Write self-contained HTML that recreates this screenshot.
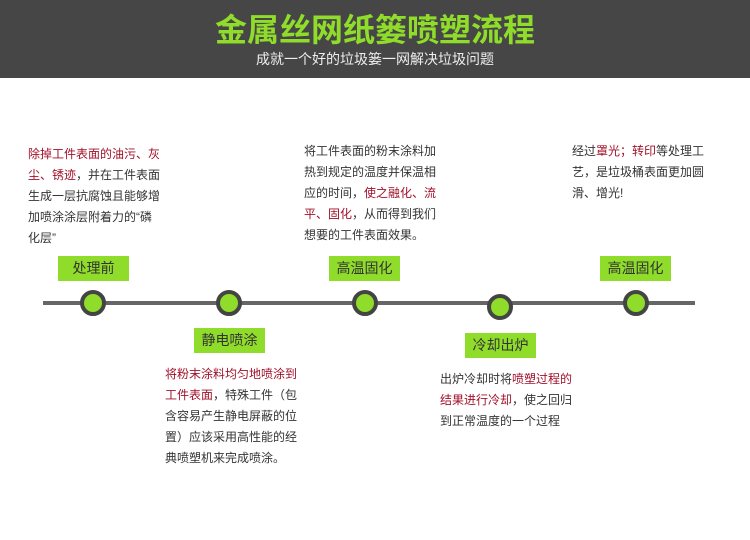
<!DOCTYPE html>
<html><head><meta charset="utf-8"><style>
body{margin:0;width:750px;height:540px;background:#fff;position:relative;overflow:hidden;font-family:"Liberation Sans","Noto Sans CJK SC",sans-serif}
.hd{position:absolute;left:0;top:0;width:750px;height:78px;background:#464646}
.t1{position:absolute;left:0;width:750px;top:10px;text-align:center;color:#8fdc2a;font-size:32px;font-weight:bold;line-height:40px}
.t2{position:absolute;left:0;width:750px;top:50px;text-align:center;color:#eee;font-size:14px;line-height:18px}
.p{position:absolute;font-size:12px;line-height:21px;color:#333;width:135px}
.r{color:#a0102a}
.lb{position:absolute;width:71px;height:25px;background:#8fdc2a;color:#333;font-size:14px;line-height:25px;text-align:center}
.c{position:absolute;width:18px;height:18px;border:4px solid #444;border-radius:50%;background:#8fdc2a}
</style></head><body>
<div class="hd"></div>
<div class="t1">金属丝网纸篓喷塑流程</div>
<div class="t2">成就一个好的垃圾篓一网解决垃圾问题</div>
<div class="p" style="left:28px;top:144px"><span class="r">除掉工件表面的油污、灰尘、锈迹</span>，并在工件表面生成一层抗腐蚀且能够增加喷涂涂层附着力的“磷化层”</div>
<div class="p" style="left:304px;top:141px">将工件表面的粉末涂料加热到规定的温度并保温相应的时间，<span class="r">使之融化、流平、固化</span>，从而得到我们想要的工件表面效果。</div>
<div class="p" style="left:572px;top:141px">经过<span class="r">罩光；转印</span>等处理工艺，是垃圾桶表面更加圆滑、增光!</div>
<div class="p" style="left:165px;top:364px"><span class="r">将粉末涂料均匀地喷涂到工件表面</span>，特殊工件（包含容易产生静电屏蔽的位置）应该采用高性能的经典喷塑机来完成喷涂。</div>
<div class="p" style="left:440px;top:369px;width:140px">出炉冷却时将<span class="r">喷塑过程的结果进行冷却</span>，使之回归到正常温度的一个过程</div>
<div style="position:absolute;left:43px;top:301px;width:652px;height:4px;background:#666"></div>
<div class="lb" style="left:58px;top:256px">处理前</div>
<div class="lb" style="left:194px;top:328px">静电喷涂</div>
<div class="lb" style="left:329px;top:256px">高温固化</div>
<div class="lb" style="left:465px;top:333px">冷却出炉</div>
<div class="lb" style="left:600px;top:256px">高温固化</div>
<div class="c" style="left:80px;top:290px"></div>
<div class="c" style="left:216px;top:290px"></div>
<div class="c" style="left:352px;top:290px"></div>
<div class="c" style="left:487px;top:294px"></div>
<div class="c" style="left:623px;top:290px"></div>
</body></html>
